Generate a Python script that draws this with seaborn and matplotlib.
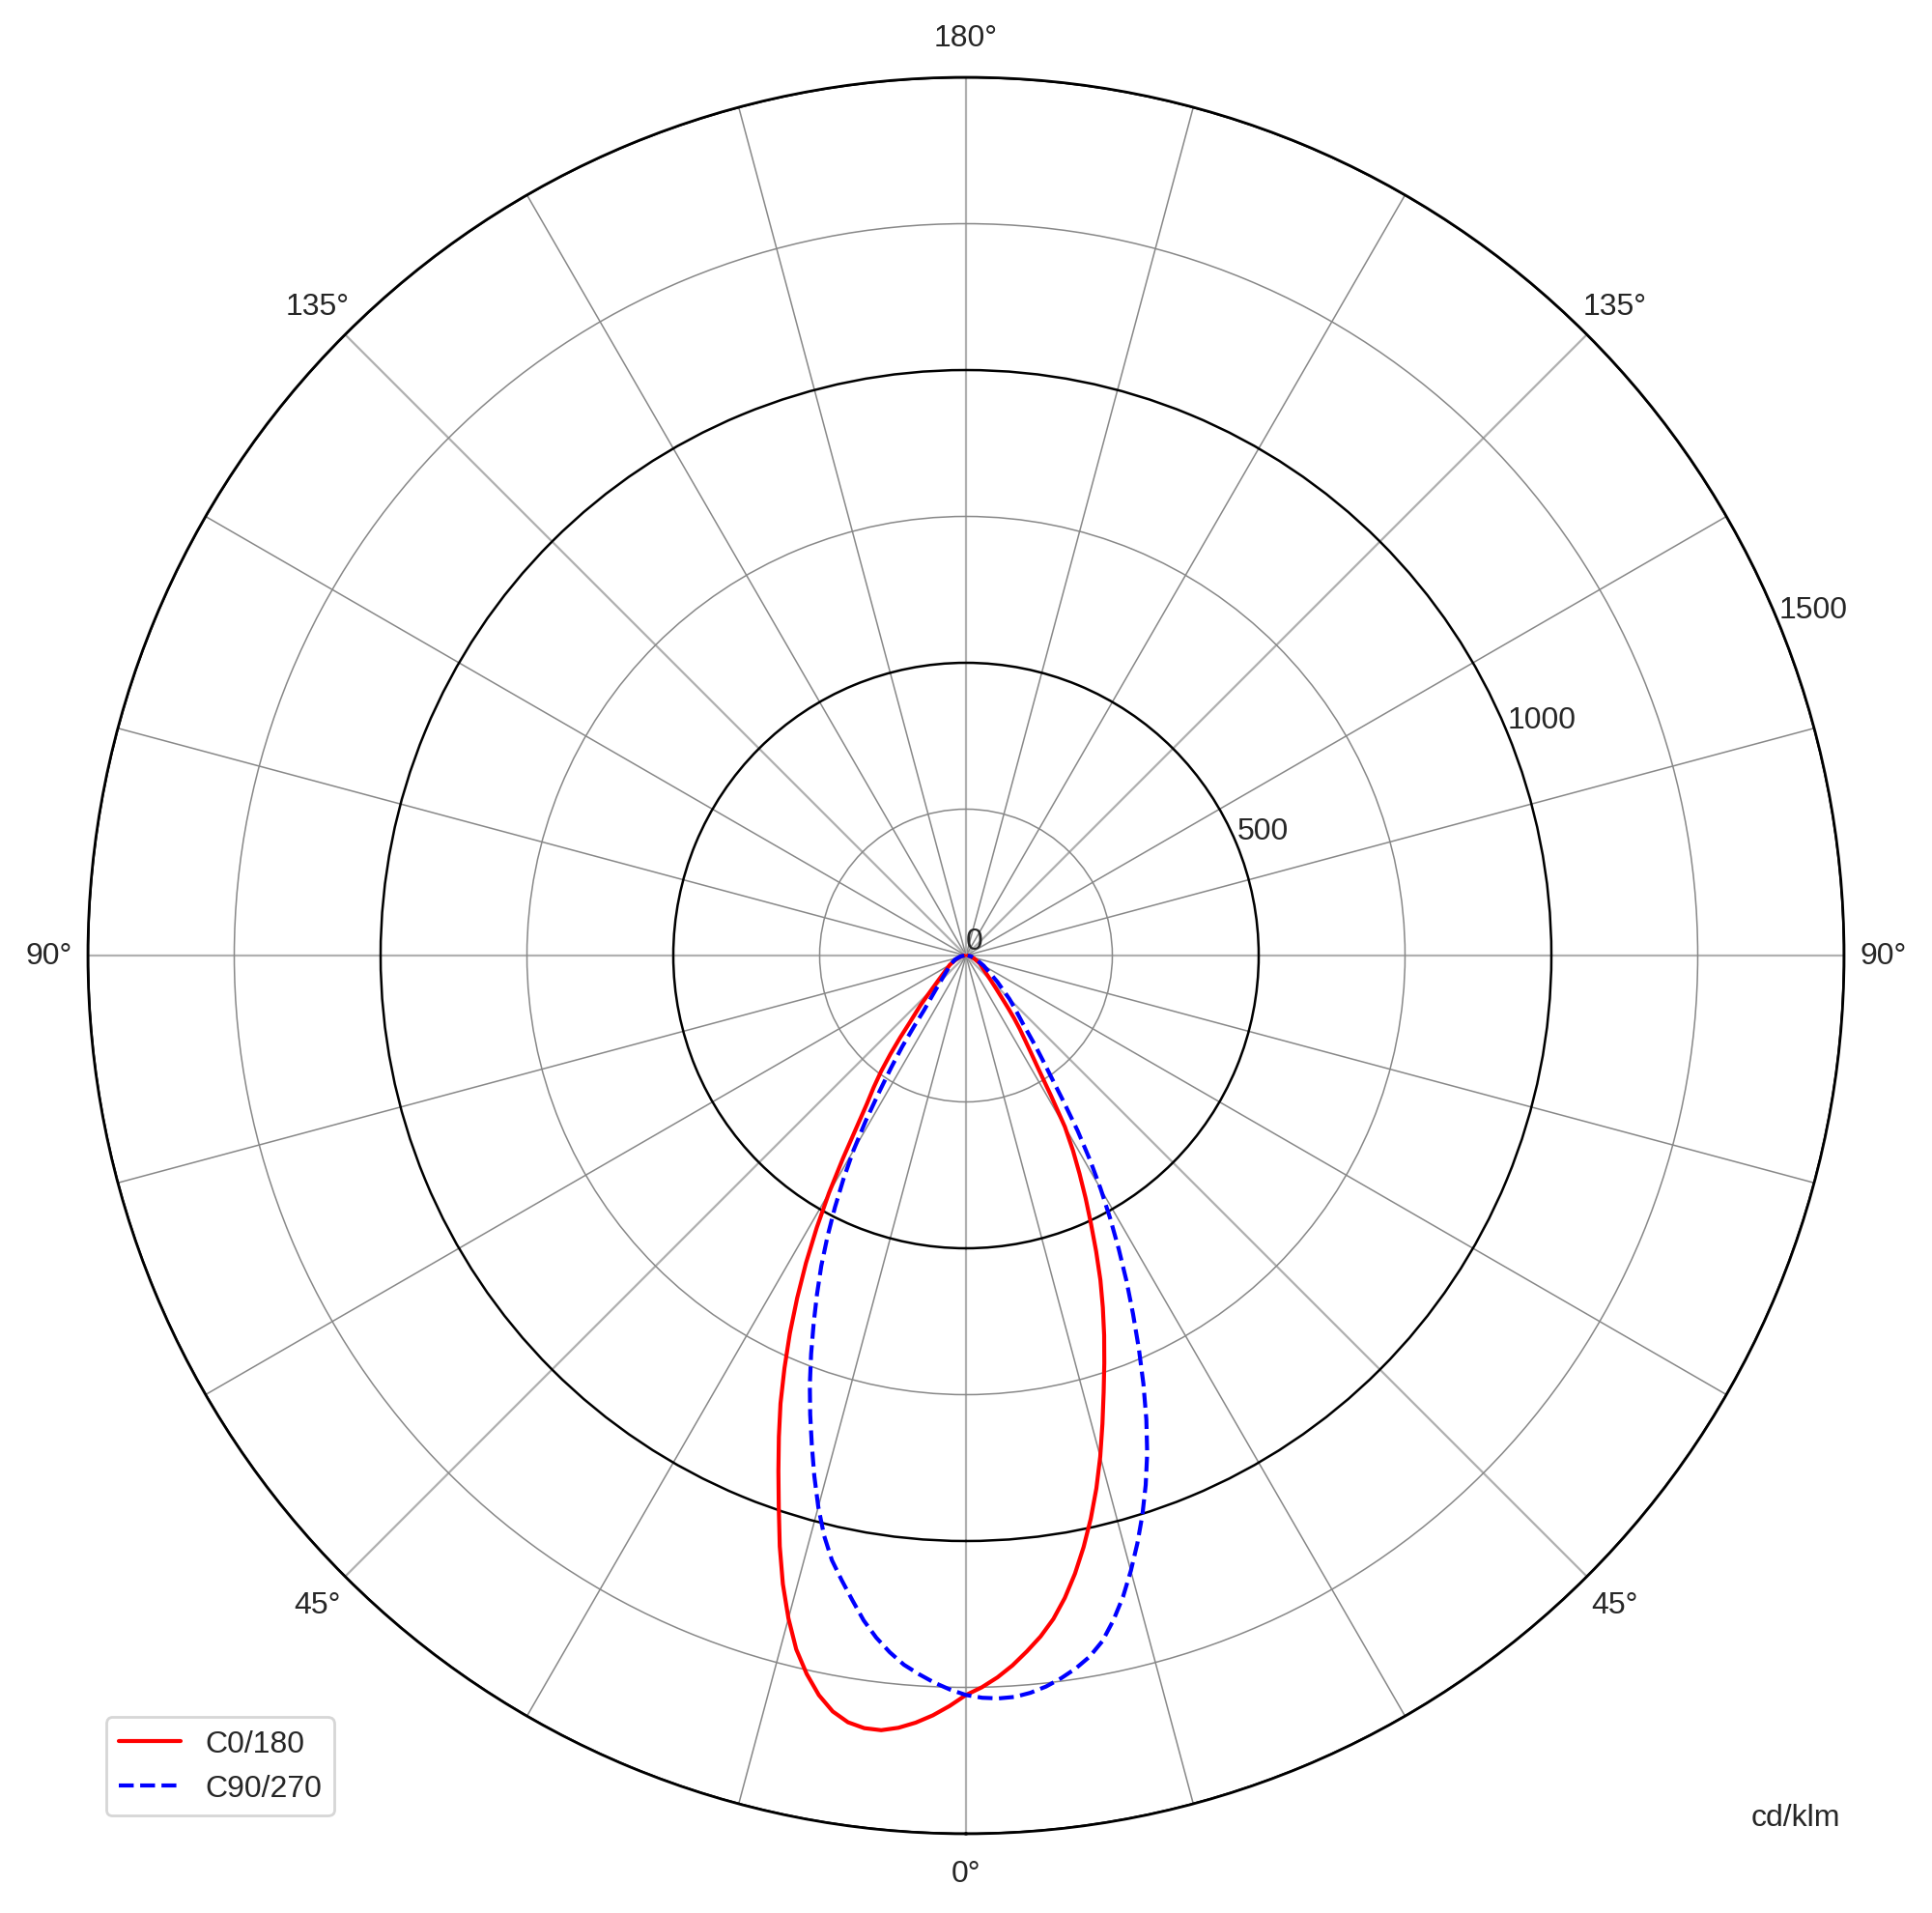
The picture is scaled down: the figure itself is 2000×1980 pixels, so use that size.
import numpy as np
import pandas as pd
import seaborn as sns
import matplotlib
import matplotlib.pyplot as plt

sns.set_style("white")
matplotlib.rcParams['font.family'] = ['Liberation Sans', 'DejaVu Sans']
matplotlib.rcParams['font.size'] = 11.5

# gamma angles (deg) and luminous intensity (cd/klm)
gamma = [0, 1.25, 2.5, 3.75, 5, 6.25, 7.5, 8.75, 10, 11.25, 12.5, 13.75, 15,
         16.25, 17.5, 18.75, 20, 21.25, 22.5, 23.75, 25, 26.25, 27.5, 28.75, 30,
         31.25, 32.5, 33.75, 35, 36.25, 37.5, 38.75, 40, 42.5, 45, 50, 60, 70, 80, 90]
c0 = [1263, 1250, 1234, 1215, 1193, 1170, 1143, 1110, 1072, 1030, 985, 937, 886,
      833, 782, 735, 690, 645, 600, 552, 505, 462, 420, 380, 338,
      280, 232, 200, 175, 155, 135, 115, 98, 75, 60, 42, 27, 15, 8, 3]
c180 = [1263, 1282, 1299, 1313, 1324, 1331, 1331, 1325, 1311, 1288, 1257, 1220, 1172,
        1118, 1058, 995, 937, 882, 828, 770, 712, 652, 592, 530, 468,
        405, 348, 305, 275, 245, 212, 180, 150, 115, 85, 55, 32, 18, 9, 3]
c90 = [1263, 1268, 1270, 1269, 1264, 1256, 1245, 1232, 1216, 1194, 1163, 1128, 1088,
       1046, 1002, 955, 905, 850, 792, 733, 675, 620, 565, 512, 460,
       408, 355, 300, 255, 222, 195, 170, 150, 125, 105, 70, 35, 18, 9, 3]
c270 = [1263, 1254, 1243, 1230, 1216, 1197, 1175, 1149, 1118, 1088, 1058, 1020, 975,
        926, 876, 828, 780, 730, 680, 632, 585, 535, 485, 435, 385,
        330, 275, 230, 190, 150, 118, 102, 90, 72, 60, 45, 30, 20, 10, 3]

theta_ticks = list(range(0, 360, 15))
theta_names = {0: "0°", 45: "45°", 90: "90°", 135: "135°", 180: "180°",
               225: "135°", 270: "90°", 315: "45°"}
r_ticks = [0, 250, 500, 750, 1000, 1250, 1500]


def full_curve(right, left):
    # left half on negative angles, right half on positive angles
    g = np.array(gamma, dtype=float)
    th = np.concatenate([-g[::-1], g[1:]])
    r = np.concatenate([np.array(left)[::-1], np.array(right)[1:]])
    return pd.DataFrame({"theta": np.deg2rad(th), "I": r})


df_c0 = full_curve(c0, c180)
df_c90 = full_curve(c90, c270)

fig = plt.figure(figsize=(10, 9.905), dpi=200)
ax = fig.add_axes([0.0455, 0.0414, 0.909, 0.9177], projection='polar')
ax.set_theta_zero_location('S')
ax.set_theta_direction(1)

sns.lineplot(data=df_c0, x="theta", y="I", sort=False, estimator=None,
             color="red", lw=1.5, label="C0/180", ax=ax)
sns.lineplot(data=df_c90, x="theta", y="I", sort=False, estimator=None,
             color="blue", lw=1.5, linestyle="--", label="C90/270", ax=ax)

ax.set_xlabel("")
ax.set_ylabel("")
ax.set_ylim(0, 1500)
ax.set_thetagrids(theta_ticks, [theta_names.get(t, "") for t in theta_ticks])
ax.set_rgrids(r_ticks, [str(r) if r % 500 == 0 else "" for r in r_ticks])
ax.set_rlabel_position(112.2)
ax.grid(True)
ax.tick_params(axis='x', length=0, pad=7.7)
ax.tick_params(axis='y', length=0)

for t, gl in zip(theta_ticks, ax.xaxis.get_gridlines()):
    if t % 45 == 0:
        gl.set_color("#b0b0b0")
        gl.set_linewidth(0.8)
    else:
        gl.set_color("#888888")
        gl.set_linewidth(0.55)
for r, gl in zip(r_ticks, ax.yaxis.get_gridlines()):
    if r % 500 == 0:
        gl.set_color("black")
        gl.set_linewidth(0.9)
    else:
        gl.set_color("#888888")
        gl.set_linewidth(0.55)
ax.spines['polar'].set_color("black")
ax.spines['polar'].set_linewidth(1.0)

ax.legend(loc='lower left', bbox_to_anchor=(0.055, 0.051),
          bbox_transform=fig.transFigure, borderaxespad=0, fontsize=11.5)
fig.text(0.9525, 1 - 1882 / 1981, "cd/klm", ha='right', va='center', fontsize=11.5)

plt.savefig("out.png", dpi=200)
